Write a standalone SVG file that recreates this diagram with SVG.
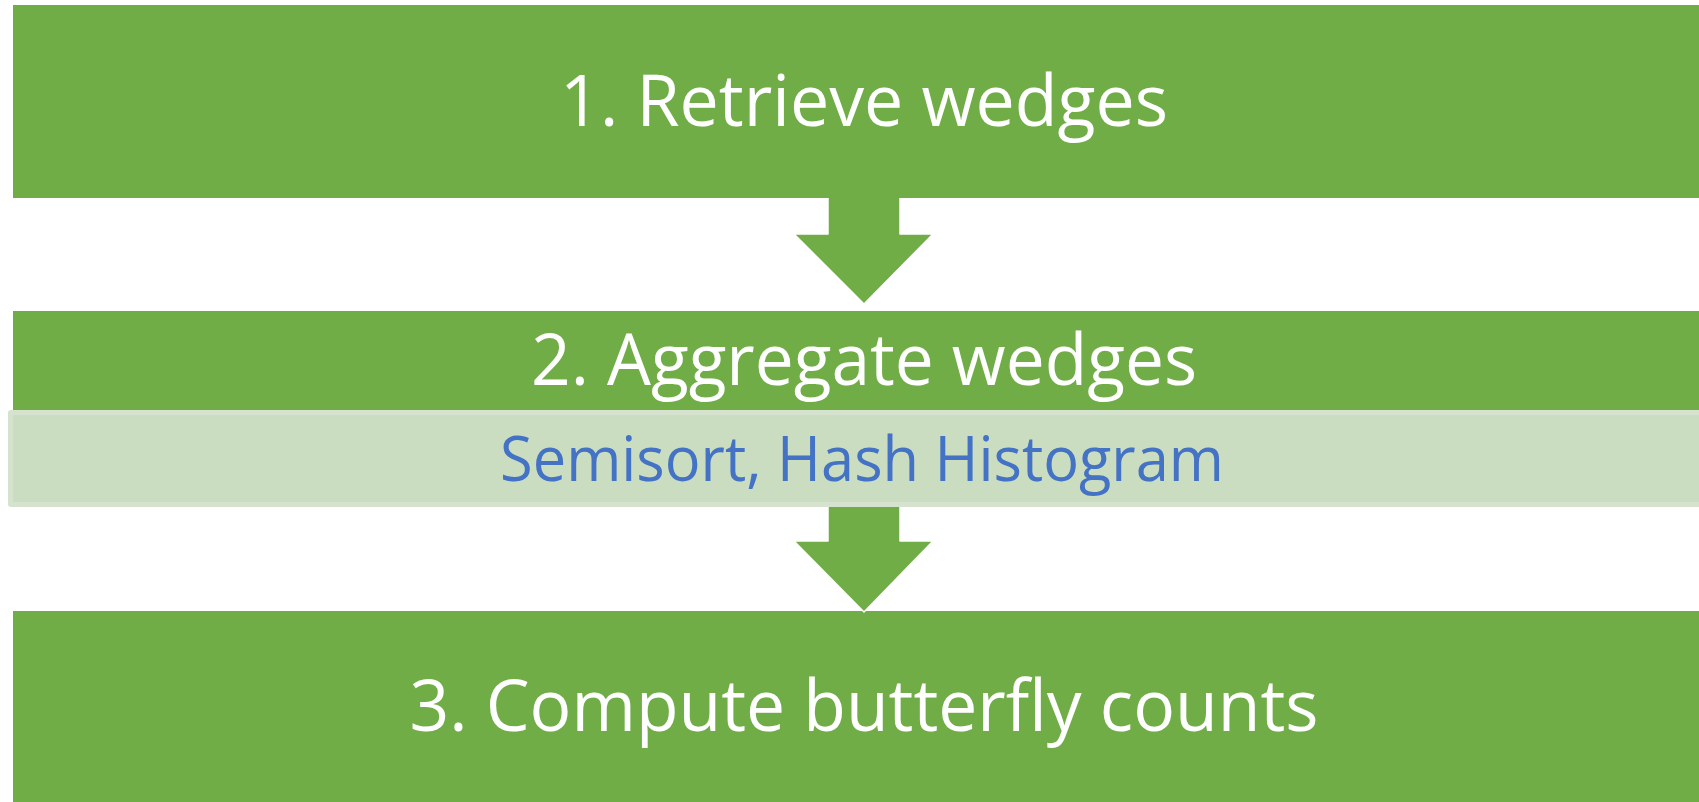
<svg xmlns="http://www.w3.org/2000/svg" width="1699" height="802" viewBox="0 0 1699 802">
<style>
.box{fill:#70AD47;}
.lbl{font-family:"Open Sans","Noto Sans",sans-serif;fill:#FFFFFF;font-size:72px;text-anchor:middle;}
.sub{font-family:"Open Sans","Noto Sans",sans-serif;fill:#4472C4;font-size:62px;text-anchor:middle;}
.arrow{fill:#70AD47;}
.edge{fill:none;stroke:#FFFFFF;stroke-width:1.5;stroke-linejoin:round;}
</style>
<rect width="1699" height="802" fill="#FFFFFF"/>
<g id="node1">
<rect class="box" x="13" y="5" width="1690" height="193"/>
<text class="lbl" x="864" y="126" textLength="608" lengthAdjust="spacingAndGlyphs">1. Retrieve wedges</text>
</g>
<g id="node2">
<rect class="box" x="13" y="311" width="1690" height="100"/>
<text class="lbl" x="864" y="385" textLength="666" lengthAdjust="spacingAndGlyphs">2. Aggregate wedges</text>
</g>
<g id="node2-sub">
<rect x="8" y="410" width="1700" height="97" rx="3" fill="#D5E3CE"/>
<rect x="13" y="415" width="1695" height="87" fill="#CADDC1"/>
<text class="sub" x="862" y="481" textLength="724" lengthAdjust="spacingAndGlyphs">Semisort, Hash Histogram</text>
</g>
<g id="node3">
<rect class="box" x="13" y="611" width="1690" height="195"/>
<text class="lbl" x="864" y="731" textLength="909" lengthAdjust="spacingAndGlyphs">3. Compute butterfly counts</text>
</g>
<g id="connectors">
<path class="arrow" d="M828,197 V234 H794 L864,304 L933,234 H900 V197 Z"/>
<path class="edge" d="M828,198 V234 H794 L864,304 L933,234 H900 V198"/>
<path class="arrow" d="M828,507 V541 H794 L864,612 L933,541 H900 V507 Z"/>
<path class="edge" d="M828,507 V541 H794 L864,612 L933,541 H900 V507"/>
</g>
</svg>
